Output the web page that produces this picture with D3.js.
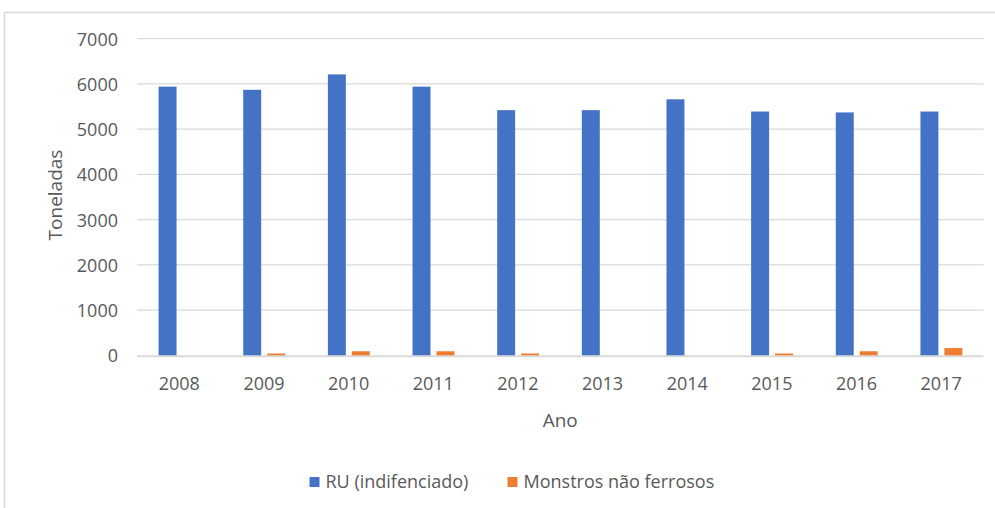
<!DOCTYPE html>
<html>
<head>
<meta charset="utf-8">
<script src="https://cdn.jsdelivr.net/npm/d3@7/dist/d3.min.js"></script>
<style>
  html, body { margin: 0; padding: 0; background: #fff; }
  svg { display: block; }
  text { font-family: "Open Sans", "Noto Sans", sans-serif; fill: #595959; }
</style>
</head>
<body>
<svg id="chart" width="995" height="508"></svg>
<script>
const years = ["2008","2009","2010","2011","2012","2013","2014","2015","2016","2017"];
const seriesNames = ["RU (indifenciado)", "Monstros não ferrosos"];
const ruValues = [5940, 5870, 6210, 5940, 5420, 5420, 5660, 5390, 5370, 5390];
const monstrosValues = [0, 40, 90, 90, 40, 0, 0, 40, 90, 160];
const yTicks = [0, 1000, 2000, 3000, 4000, 5000, 6000, 7000];
const colors = ["#4472C4", "#ED7D31"];
const yLabel = "Toneladas";
const xLabel = "Ano";

const svg = d3.select("#chart");

// outer frame
svg.append("path")
  .attr("d", "M4.5,520 L4.5,12.5 L1000,12.5")
  .attr("fill", "none").attr("stroke", "#d9d9d9").attr("stroke-width", 1.5);

const plotLeft = 137, plotRight = 983.5, plotTop = 38.7, plotBottom = 355.3;

const x0 = d3.scaleBand().domain(years).range([plotLeft, plotRight]).paddingInner(0).paddingOuter(0);
const bw = x0.bandwidth();
const x1 = d3.scaleBand().domain(seriesNames).range([bw * 0.255, bw * 0.75]).paddingInner(0.25);
const y = d3.scaleLinear().domain([0, 7000]).range([plotBottom, plotTop]);

// gridlines
svg.append("g").selectAll("line").data(yTicks.filter(d => d > 0)).join("line")
  .attr("x1", plotLeft).attr("x2", plotRight)
  .attr("y1", d => y(d)).attr("y2", d => y(d))
  .attr("stroke", "#d9d9d9").attr("stroke-width", 1.3);

// baseline axis
svg.append("line")
  .attr("x1", plotLeft).attr("x2", plotRight)
  .attr("y1", plotBottom + 1).attr("y2", plotBottom + 1)
  .attr("stroke", "#d9d9d9").attr("stroke-width", 2);

// y tick labels
svg.append("g").selectAll("text").data(yTicks).join("text")
  .attr("x", 118).attr("y", d => y(d))
  .attr("text-anchor", "end").attr("dominant-baseline", "central")
  .style("font-size", "18px")
  .text(d => d);

// bars
const table = years.map((yr, i) => ({ year: yr, values: [ruValues[i], monstrosValues[i]] }));
const groups = svg.append("g").selectAll("g").data(table).join("g")
  .attr("transform", d => `translate(${x0(d.year)},0)`);
groups.selectAll("rect").data(d => d.values.map((v, k) => ({ name: seriesNames[k], v, k })))
  .join("rect")
  .attr("x", d => x1(d.name))
  .attr("width", x1.bandwidth())
  .attr("y", d => y(d.v))
  .attr("height", d => plotBottom - y(d.v))
  .attr("fill", d => colors[d.k]);

// x tick labels
svg.append("g").selectAll("text").data(years).join("text")
  .attr("x", d => x0(d) + bw / 2).attr("y", 390)
  .attr("text-anchor", "middle")
  .style("font-size", "18px")
  .text(d => d);

// axis titles
svg.append("text")
  .attr("transform", "translate(62,195) rotate(-90)")
  .attr("text-anchor", "middle")
  .style("font-size", "19px")
  .text(yLabel);

svg.append("text")
  .attr("x", (plotLeft + plotRight) / 2).attr("y", 427)
  .attr("text-anchor", "middle")
  .style("font-size", "19px")
  .text(xLabel);

// legend
const legendItems = [
  { name: seriesNames[0], color: colors[0], x: 309.5 },
  { name: seriesNames[1], color: colors[1], x: 507.5 }
];
const lg = svg.append("g").selectAll("g").data(legendItems).join("g")
  .attr("transform", d => `translate(${d.x},0)`);
lg.append("rect").attr("x", 0).attr("y", 477).attr("width", 10).attr("height", 10)
  .attr("fill", d => d.color);
lg.append("text").attr("x", 16).attr("y", 488)
  .style("font-size", "18px")
  .text(d => d.name);
</script>
</body>
</html>
